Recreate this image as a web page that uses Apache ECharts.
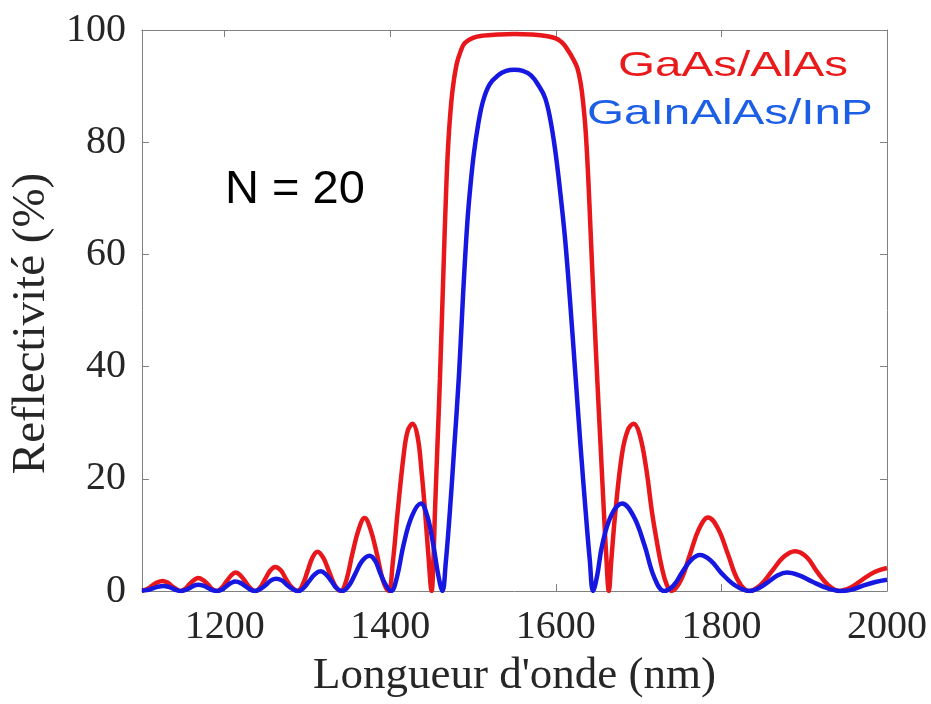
<!DOCTYPE html>
<html>
<head>
<meta charset="utf-8">
<script src="https://cdn.jsdelivr.net/npm/echarts@6/dist/echarts.min.js"></script>
<style>
  html, body { margin: 0; padding: 0; background: #ffffff; }
  #chart { width: 931px; height: 704px; }
</style>
</head>
<body>
<div id="chart"></div>
<script>
// Wavelength (nm) and reflectivity (%)
var gaasWavelength = [
  1100,1106,1112,1118,1125,1131,1136,1142,1147,
  1152,1157,1163,1168,1174,1180,1185,1191,
  1196,1202,1208,1213,1219,1225,1231,1237,
  1243,1249,1255,1261,1268,1274,1281,1288,
  1294,1300,1306,1312,1319,1326,1333,1340,
  1347,1354,1362,1369,1376,1384,1391,1398,
  1403,1409,1416,1421,1427,1433,1438,1442,1446,1450,
  1452,1454,1457,1460,1464,1468,1471,1475,1480,1485,1490,1500,1512,1530,1550,1570,1590,1600,1608,
  1615,1621,1626,1630,1633,1636,1639,1642,1646,1650,1654,1658,1661,1664,
  1667,1672,1680,1687,1694,1701,1709,1716,1722,1728,1734,1740,
  1751,1762,1773,1784,1796,1808,1820,1833,
  1847,1861,1875,1889,1903,1915,1929,1942,
  1956,1970,1985,2000
];
var gaasReflect = [
  0.1,0.3,0.9,1.5,1.8,1.5,0.9,0.3,0,
  0.35,1.15,1.95,2.3,1.95,1.15,0.35,0,
  0.5,1.65,2.8,3.3,2.8,1.65,0.5,0,
  0.65,2.15,3.65,4.3,3.65,2.15,0.65,0,
  1.05,3.5,5.95,7.0,5.95,3.5,1.05,0,
  1.95,6.5,11.05,13.0,11.05,6.5,1.95,0,
  5.0,14.2,24.0,28.5,29.8,27.5,21.0,14.2,6.5,0,
  5.0,14.2,26.0,37.8,56.0,73.4,82.0,89.0,93.8,96.2,97.7,98.6,99.0,99.2,99.3,99.2,98.9,98.5,97.7,
  96.3,94.8,93.2,90.5,87.0,82.0,74.0,64.0,50.5,37.8,26.0,14.2,6.0,0,
  5.5,14.2,24.5,28.7,29.8,28.0,22.0,14.2,8.8,4.2,1.1,0,
  1.9,6.5,11.1,13.1,11.1,6.5,1.9,0,
  1.05,3.55,6.05,7.1,6.05,3.55,1.05,0,
  0.6,2.0,3.4,4.1
];

var gainWavelength = [
  1100,1106,1113,1119,1126,1132,1137,1142,1147,
  1152,1158,1163,1168,1174,1180,1185,1191,
  1197,1202,1208,1213,1219,1225,1231,1237,
  1243,1250,1256,1262,1269,1275,1282,1289,
  1295,1302,1309,1316,1322,1329,1335,1342,
  1350,1358,1366,1375,1382,1388,1395,1401,
  1408,1416,1426,1437,1445,1452,1458,1463,
  1467,1472,1477,1483,1488,1493,1497,1501,1506,1512,1520,1530,1540,1550,1560,1570,1580,1587,1593,1599,1605,1611,1617,1624,1630,1636,1641,1645,
  1650,1656,1667,1680,1694,1707,1719,1731,
  1742,1752,1763,1774,1787,1800,1817,1834,
  1845,1857,1868,1879,1894,1910,1928,1946,
  1959,1972,1986,2000
];
var gainReflect = [
  0.05,0.15,0.45,0.75,0.9,0.75,0.45,0.15,0,
  0.15,0.55,0.95,1.1,0.95,0.55,0.15,0,
  0.25,0.85,1.45,1.7,1.45,0.85,0.25,0,
  0.35,1.1,1.9,2.2,1.9,1.1,0.35,0,
  0.5,1.75,3.0,3.5,3.0,1.75,0.5,0,
  0.95,3.15,5.35,6.3,5.35,3.15,0.95,0,
  2.4,8.2,13.3,15.6,13.2,8.2,2.8,0,
  5.0,14.2,25.0,38.5,53.0,65.5,72.5,78.0,83.0,87.3,90.3,91.9,92.7,92.9,92.7,91.9,89.9,87.9,84.3,78.8,71.5,63.0,52.0,37.8,25.5,14.2,5.5,0,
  2.8,8.2,13.5,15.6,13.3,8.2,2.4,0,
  0.95,3.2,5.45,6.4,5.45,3.2,0.95,0,
  0.5,1.65,2.8,3.3,2.8,1.65,0.5,0,
  0.3,1.0,1.6,2.0
];

var seriesNames = ['GaAs/AlAs', 'GaInAlAs/InP'];
var annotationText = 'N = 20';
var xAxisTitle = "Longueur d'onde (nm)";
var yAxisTitle = 'Reflectivité (%)';

function pairs(xs, ys) {
  var out = [];
  for (var i = 0; i < xs.length; i++) out.push([xs[i], ys[i]]);
  return out;
}

var axisGrey = '#808080';
var serif = '"Liberation Serif", "Times New Roman", serif';
var sans = '"Liberation Sans", Arial, sans-serif';

var chart = echarts.init(document.getElementById('chart'), null, { renderer: 'canvas' });

var option = {
  animation: false,
  backgroundColor: '#ffffff',
  grid: { left: 136, right: 44, top: 30, bottom: 111, containLabel: false },
  xAxis: [
    {
      type: 'value', position: 'bottom', min: 1100, max: 2000,
      name: xAxisTitle, nameLocation: 'middle', nameGap: 63,
      nameTextStyle: { fontFamily: serif, fontSize: 45, color: '#262626' },
      axisLine: { show: true, onZero: false, lineStyle: { color: axisGrey, width: 1 } },
      axisTick: { show: true, inside: true, length: 7, lineStyle: { color: axisGrey } },
      axisLabel: {
        showMinLabel: false, fontFamily: serif, fontSize: 40, color: '#262626', margin: 16,
        formatter: function (v) { return String(v); }
      },
      splitLine: { show: false }
    },
    {
      type: 'value', position: 'top', min: 1100, max: 2000,
      axisLine: { show: true, onZero: false, lineStyle: { color: axisGrey, width: 1 } },
      axisTick: { show: true, inside: true, length: 7, lineStyle: { color: axisGrey } },
      axisLabel: { show: false },
      splitLine: { show: false }
    }
  ],
  yAxis: [
    {
      type: 'value', position: 'left', min: 0, max: 100, interval: 20,
      name: yAxisTitle, nameLocation: 'middle', nameGap: 82,
      nameTextStyle: { fontFamily: serif, fontSize: 47, color: '#262626', padding: [0, 26, 0, 0] },
      axisLine: { show: true, onZero: false, lineStyle: { color: axisGrey, width: 1 } },
      axisTick: { show: true, inside: true, length: 7, lineStyle: { color: axisGrey } },
      axisLabel: { fontFamily: serif, fontSize: 40, color: '#262626', margin: 16 },
      splitLine: { show: false }
    },
    {
      type: 'value', position: 'right', min: 0, max: 100, interval: 20,
      axisLine: { show: true, onZero: false, lineStyle: { color: axisGrey, width: 1 } },
      axisTick: { show: true, inside: true, length: 7, lineStyle: { color: axisGrey } },
      axisLabel: { show: false },
      splitLine: { show: false }
    }
  ],
  series: [
    {
      name: seriesNames[0], type: 'line', xAxisIndex: 0, yAxisIndex: 0,
      data: pairs(gaasWavelength, gaasReflect),
      smooth: 0.4, showSymbol: false, clip: true,
      lineStyle: { color: '#e8171b', width: 4.5 }, itemStyle: { color: '#e8171b' }
    },
    {
      name: seriesNames[1], type: 'line', xAxisIndex: 0, yAxisIndex: 0,
      data: pairs(gainWavelength, gainReflect),
      smooth: 0.4, showSymbol: false, clip: true,
      lineStyle: { color: '#1717e2', width: 4.5 }, itemStyle: { color: '#1717e2' }
    }
  ],
  graphic: [
    {
      type: 'text', x: 225, y: 190, z: 10,
      style: { text: annotationText, fontFamily: sans, fontSize: 47, fill: '#000000', align: 'left', verticalAlign: 'middle' }
    },
    {
      type: 'text', x: 618, y: 66, scaleX: 1.36, z: 10,
      style: { text: seriesNames[0], fontFamily: sans, fontSize: 35, fill: '#ea1a1a', align: 'left', verticalAlign: 'middle' }
    },
    {
      type: 'text', x: 587, y: 114, scaleX: 1.36, z: 10,
      style: { text: seriesNames[1], fontFamily: sans, fontSize: 35, fill: '#1c5ee6', align: 'left', verticalAlign: 'middle' }
    }
  ]
};

chart.setOption(option);
</script>
</body>
</html>
